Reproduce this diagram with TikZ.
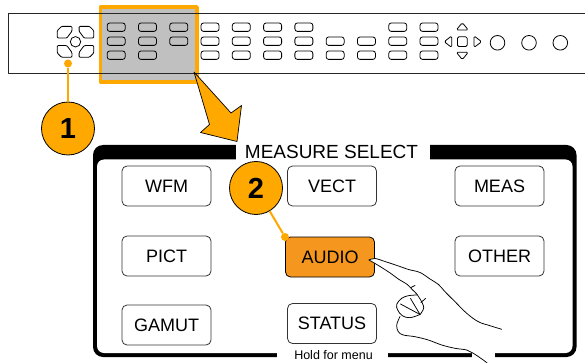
\documentclass[tikz,border=0pt]{standalone}
\usepackage{fontspec}
\setmainfont{Liberation Sans}
\definecolor{hiorange}{RGB}{255,168,0}
\definecolor{audiofill}{RGB}{245,150,30}
\definecolor{panelgray}{RGB}{192,192,192}
\begin{document}
\begin{tikzpicture}[x=1pt,y=-1pt,line join=round,
  keybtn/.style={draw=black,line width=0.8pt,rounded corners=2.5pt,minimum width=18pt,minimum height=8.4pt,inner sep=0pt},
  padkey/.style={draw=black,line width=0.8pt,rounded corners=1.5pt},
  joykey/.style={draw=black,line width=0.8pt,rounded corners=0.9pt},
  roundkey/.style={circle,draw=black,line width=0.8pt,minimum size=14.6pt,inner sep=0pt},
  panelline/.style={draw=black!85,line width=1pt},
  mbtn/.style={draw=black!80,line width=0.8pt,rounded corners=5pt,minimum width=89pt,minimum height=40pt,inner sep=0pt,font=\fontsize{18}{18}\selectfont},
  callout/.style={circle,draw=black,line width=0.8pt,fill=hiorange,minimum size=53pt,inner sep=0pt,font=\bfseries\fontsize{29}{29}\selectfont},
  calldot/.style={circle,fill=hiorange,minimum size=8pt,inner sep=0pt},
  callline/.style={draw=hiorange,line width=2pt},
  handline/.style={draw=black,line width=0.75pt,line cap=round}]
\useasboundingbox (0,0) rectangle (585,363);

% highlighted group of front-panel keys
\node[draw=hiorange,line width=3.5pt,fill=panelgray,minimum width=96.5pt,minimum height=75pt,inner sep=0pt] (hl) at (148.8,44.5) {};

% front panel outline (runs off the right edge)
\draw[panelline] (585,14) -- (8,14) -- (8,74) -- (585,74);

% joystick: centre button and four corner keys
\node[circle,draw=black,line width=0.8pt,minimum size=10.4pt,inner sep=0pt] (joy) at (75.5,41.8) {};
\foreach \sx/\sy in {1/1,-1/1,1/-1,-1/-1}{
  \draw[joykey,shift={(75.5,41.8)},xscale=\sx,yscale=\sy]
    (-18.2,-3.8) -- (-18.2,-11.2) -- (-14,-15.4) -- (-3.6,-15.4) -- (-3.6,-10.6) -- (-8.6,-3.8) -- cycle;
}

% rows of soft keys
\foreach \c/\rows in {0/{1,2,3},1/{1,2,3},2/{1,2},3/{1,2,3},4/{1,2,3},5/{1,2,3},6/{1,2,3},7/{2,3},8/{2,3},9/{1,2,3},10/{1,2,3}}{
  \foreach \r in \rows{
    \pgfmathsetmacro{\kx}{116.2+31.28*\c}
    \pgfmathsetmacro{\ky}{27.2+14*(\r-1)}
    \node[keybtn] (key-\c-\r) at (\kx,\ky) {};
  }
}

% arrow pad
\node[padkey,draw,minimum width=9.8pt,minimum height=9.8pt,inner sep=0pt] (padc) at (462.3,41.7) {};
\draw[padkey] (462.3,22.7) -- (468.3,30) -- (456.3,30) -- cycle;
\draw[padkey] (456.3,52.2) -- (468.3,52.2) -- (462.3,59.6) -- cycle;
\draw[padkey] (444.2,41.7) -- (451.7,35.9) -- (451.7,47.5) -- cycle;
\draw[padkey] (481.6,41.7) -- (474,35.9) -- (474,47.5) -- cycle;

% round keys
\node[roundkey] (rk1) at (497.5,42.8) {};
\node[roundkey] (rk2) at (529,42.8) {};
\node[roundkey] (rk3) at (560.3,42.8) {};

% callout 1
\node[calldot] (d1) at (68,63.5) {};
\node[callout] (c1) at (68,128.5) {1};
\draw[callline] (d1) -- (c1);

% pointer arrow to the menu
\draw[fill=hiorange,draw=black,line width=0.7pt]
  (194,72) -- (231,113) -- (241.5,105.5) -- (237,141.5) -- (200.5,132.5) -- (209.5,124.5) -- cycle;

% MEASURE SELECT frame
\fill[black,rounded corners=10pt] (93,145) rectangle (576.5,357);
\fill[white,rounded corners=7pt] (97,159.5) rectangle (572.5,353);
\fill[white] (236,143) rectangle (430,160);
\fill[white] (277,351) rectangle (388,359);
\fill[white] (472,351) rectangle (495,359);
\node[anchor=base,font=\fontsize{19}{19}\selectfont,inner sep=0pt] (title) at (331.5,158.3) {MEASURE SELECT};
\node[anchor=base,font=\fontsize{12.5}{12.5}\selectfont,inner sep=0pt] (hold) at (333.5,359.5) {Hold for menu};

% menu buttons
\node[mbtn] (wfm) at (166.5,186) {WFM};
\node[mbtn] (vect) at (332,186) {VECT};
\node[mbtn] (meas) at (499.5,186) {MEAS};
\node[mbtn] (pict) at (166.5,256) {PICT};
\node[mbtn,fill=audiofill,draw=black] (audio) at (330,257) {AUDIO};
\node[mbtn] (other) at (499.5,256) {OTHER};
\node[mbtn] (gamut) at (166.5,325) {GAMUT};
\node[mbtn] (status) at (332,323.5) {STATUS};

% callout 2
\node[calldot] (d2) at (285,237) {};
\node[callout] (c2) at (256,188) {2};
\draw[callline] (c2) -- (d2);

% pointing hand
\fill[white] plot[smooth] coordinates {(369,260) (375,258.5) (385,261.5) (398.5,266)}
  -- plot[smooth] coordinates {(398.7,279.3) (392,274.3) (382,267.7) (373.7,262.7) (369,260)} -- cycle;
\draw[handline] plot[smooth,tension=0.6] coordinates {(369,260) (375,258.5) (385,261.5) (398.5,266) (408.5,269.5) (420,272.5) (430,279) (438.5,284.5) (445,291.7) (455,301.7) (466.7,313.3) (478.3,321.7) (490,325.7) (501.7,329.3)};
\draw[handline] plot[smooth,tension=0.6] coordinates {(369,260) (373.7,262.7) (382,267.7) (392,274.3) (398.7,279.3) (407,284.3) (412,289.3) (417,294.3) (420.3,299.3) (423.7,307.7) (420,314.5)};
\draw[handline] plot[smooth,tension=0.6] coordinates {(416.7,295) (408.3,295.7) (401.7,298.3) (396.7,304.3) (397.7,310) (402.3,315.7) (410,317.7) (420,314.5)};
\draw[handline] (420,314.5) -- (400.5,304);
\draw[handline] (420,314.5) -- (410.5,298.5);
\draw[handline] (421,302.5) -- (425.5,298.5);
\draw[handline] (411,287.5) -- (415,285.5);
\draw[handline] plot[smooth,tension=0.6] coordinates {(400,316.5) (396.7,325) (398.3,331.7) (403.3,335) (415,336.7) (428.3,340) (441.7,345) (455,348.3) (466.7,350) (473.3,353.3) (483.3,360) (487,363)};
\end{tikzpicture}
\end{document}
